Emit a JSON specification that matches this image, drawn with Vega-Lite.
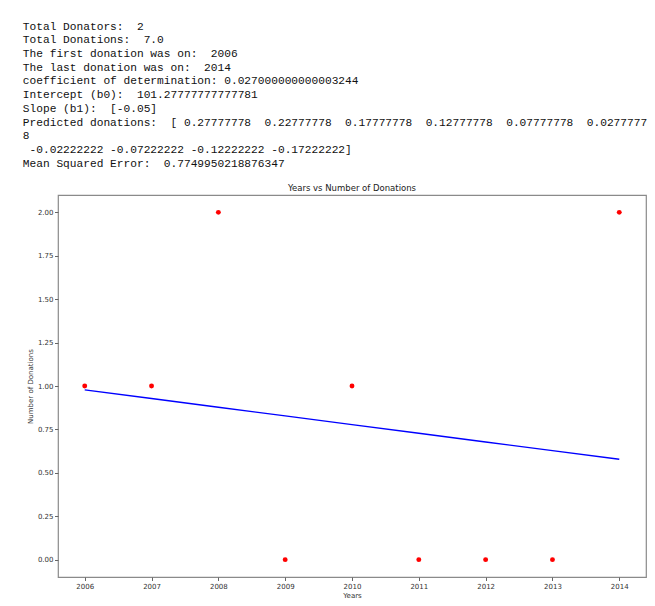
{
  "$schema": "https://vega.github.io/schema/vega-lite/v6.json",
  "background": "white",
  "padding": {"left": 22, "top": 20, "right": 8, "bottom": 4},
  "title": {
    "text": [
      "Total Donators:\u00a0\u00a02",
      "Total Donations:\u00a0\u00a07.0",
      "The first donation was on:\u00a0\u00a02006",
      "The last donation was on:\u00a0\u00a02014",
      "coefficient of determination: 0.027000000000003244",
      "Intercept (b0):\u00a0\u00a0101.27777777777781",
      "Slope (b1):\u00a0\u00a0[-0.05]",
      "Predicted donations:\u00a0\u00a0[ 0.27777778\u00a0\u00a00.22777778\u00a0\u00a00.17777778\u00a0\u00a00.12777778\u00a0\u00a00.07777778\u00a0\u00a00.0277777",
      "8",
      "\u200b\u00a0-0.02222222 -0.07222222 -0.12222222 -0.17222222]",
      "Mean Squared Error:\u00a0\u00a00.7749950218876347"
    ],
    "anchor": "start",
    "frame": "bounds",
    "font": "Liberation Mono",
    "fontSize": 11.2,
    "fontWeight": "normal",
    "lineHeight": 13.7,
    "color": "#111111",
    "offset": 14,
    "dx": -3
  },
  "vconcat": [
    {
      "width": 588,
      "height": 382,
      "title": {
        "text": "Years vs Number of Donations",
        "font": "DejaVu Sans",
        "fontSize": 8.5,
        "fontWeight": "normal",
        "color": "#222",
        "offset": 3,
        "anchor": "middle"
      },
      "data": {
        "values": [
          {"year": 2006, "donations": 1, "predicted": 0.9778},
          {"year": 2007, "donations": 1, "predicted": 0.9278},
          {"year": 2008, "donations": 2, "predicted": 0.8778},
          {"year": 2009, "donations": 0, "predicted": 0.8278},
          {"year": 2010, "donations": 1, "predicted": 0.7778},
          {"year": 2011, "donations": 0, "predicted": 0.7278},
          {"year": 2012, "donations": 0, "predicted": 0.6778},
          {"year": 2013, "donations": 0, "predicted": 0.6278},
          {"year": 2014, "donations": 2, "predicted": 0.5778}
        ]
      },
      "layer": [
        {
          "mark": {"type": "point", "filled": true, "color": "#ff0000", "size": 24, "opacity": 1},
          "encoding": {
            "x": {
              "field": "year",
              "type": "quantitative",
              "title": "Years",
              "scale": {"domain": [2005.6, 2014.4], "nice": false, "zero": false},
              "axis": {
                "values": [2006, 2007, 2008, 2009, 2010, 2011, 2012, 2013, 2014],
                "format": "d",
                "grid": false,
                "domain": false,
                "tickSize": 3.5,
                "tickColor": "#666",
                "labelFont": "DejaVu Sans",
                "labelFontSize": 7,
                "labelColor": "#333",
                "labelPadding": 1.5,
                "titleFont": "DejaVu Sans",
                "titleFontSize": 7,
                "titleFontWeight": "normal",
                "titleColor": "#333",
                "titlePadding": 2
              }
            },
            "y": {
              "field": "donations",
              "type": "quantitative",
              "title": "Number of Donations",
              "scale": {"domain": [-0.1, 2.1], "nice": false, "zero": false},
              "axis": {
                "values": [0, 0.25, 0.5, 0.75, 1, 1.25, 1.5, 1.75, 2],
                "format": ".2f",
                "grid": false,
                "domain": false,
                "tickSize": 3.5,
                "tickColor": "#666",
                "labelFont": "DejaVu Sans",
                "labelFontSize": 7,
                "labelColor": "#333",
                "labelPadding": 1.5,
                "titleFont": "DejaVu Sans",
                "titleFontSize": 7,
                "titleFontWeight": "normal",
                "titleColor": "#333",
                "titlePadding": 4
              }
            }
          }
        },
        {
          "mark": {"type": "line", "color": "#0000ff", "strokeWidth": 1.4},
          "encoding": {
            "x": {"field": "year", "type": "quantitative"},
            "y": {"field": "predicted", "type": "quantitative"}
          }
        }
      ]
    }
  ],
  "config": {
    "view": {"stroke": "#8a8a8a", "strokeWidth": 1.2}
  }
}
